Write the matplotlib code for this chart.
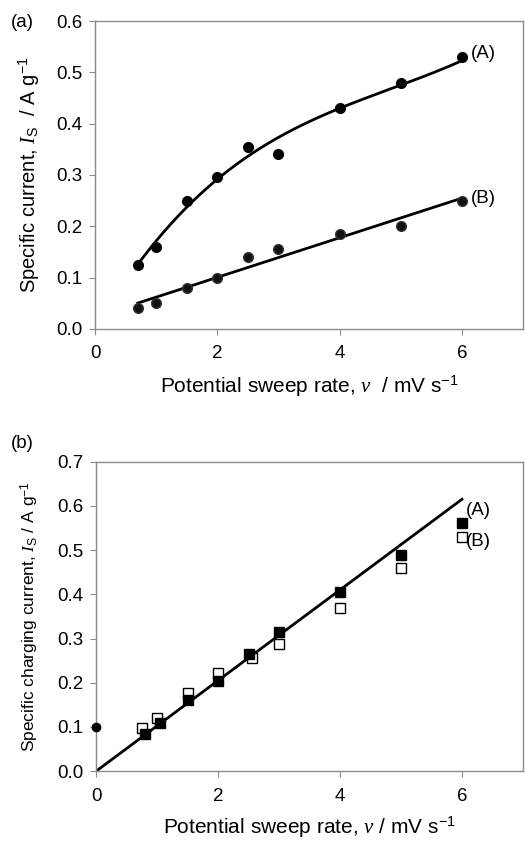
import numpy as np
import matplotlib
matplotlib.use("Agg")
import matplotlib.pyplot as plt

plt.rcParams['font.family'] = ['Liberation Sans', 'DejaVu Sans']
plt.rcParams['mathtext.fontset'] = 'custom'
plt.rcParams['mathtext.rm'] = 'Liberation Sans'
plt.rcParams['mathtext.it'] = 'Liberation Serif:italic'
plt.rcParams['mathtext.bf'] = 'Liberation Sans:bold'

# (a) specific current vs sweep rate
a_x = [0.7, 1, 1.5, 2, 2.5, 3, 4, 5, 6]
a_A = [0.125, 0.16, 0.25, 0.295, 0.355, 0.34, 0.43, 0.48, 0.53]
a_B = [0.04, 0.05, 0.08, 0.10, 0.14, 0.155, 0.185, 0.20, 0.25]
# fitted curve for (A)
fitA_x = [0.7, 1, 1.5, 2, 3, 4, 5, 6]
fitA_y = [0.128, 0.165, 0.243, 0.29, 0.373, 0.428, 0.477, 0.522]

# (b) specific charging current vs sweep rate
b_xA = [0.8, 1.05, 1.5, 2, 2.5, 3, 4, 5, 6]
b_A = [0.085, 0.11, 0.16, 0.205, 0.265, 0.315, 0.405, 0.49, 0.562]
b_xB = [0.75, 1, 1.5, 2, 2.55, 3, 4, 5, 6]
b_B = [0.097, 0.12, 0.177, 0.222, 0.255, 0.288, 0.37, 0.46, 0.53]
b_fit_x = [0, 6]
b_fit_y = [0, 0.615]
b_extra = (0, 0.1)

spine_col = '#8c8c8c'

fig = plt.figure(figsize=(5.25, 8.41), dpi=100)
ax1 = fig.add_axes([0.181, 0.609, 0.815, 0.366])
ax2 = fig.add_axes([0.183, 0.083, 0.813, 0.368])

def style(ax, ymax):
    ax.set_xlim(0, 7)
    ax.set_ylim(0, ymax)
    ax.set_xticks([0, 2, 4, 6])
    ax.set_yticks(np.arange(0, ymax + 0.001, 0.1))
    ax.set_yticklabels(['%.1f' % v for v in np.arange(0, ymax + 0.001, 0.1)])
    for s in ax.spines.values():
        s.set_color(spine_col)
        s.set_linewidth(1.0)
    ax.tick_params(direction='out', length=4, color=spine_col, labelsize=13.5)
    ax.tick_params(axis='x', pad=8)
    ax.tick_params(axis='y', pad=5)

# panel a
xx = np.linspace(min(fitA_x), max(fitA_x), 200)
pA = np.polyfit(fitA_x, fitA_y, 3)
pB = np.polyfit(a_x, a_B, 1)
ax1.plot(xx, np.polyval(pA, xx), color='black', lw=2)
ax1.plot(xx, np.polyval(pB, xx), color='black', lw=2)
ax1.plot(a_x, a_A, 'o', color='black', ms=7, clip_on=False)
ax1.plot(a_x, a_B, 'o', color='#111111', mec='#333333', ms=7, clip_on=False)
ax1.text(6.15, 0.537, '(A)', fontsize=13.5, va='center')
ax1.text(6.15, 0.254, '(B)', fontsize=13.5, va='center')
style(ax1, 0.6)
ax1.set_xlabel(r'Potential sweep rate, $\mathit{\nu}$  / mV s$^{-1}$', fontsize=15, labelpad=8)
ax1.set_ylabel(r'Specific current, $\mathit{I}_{\mathrm{S}}$  / A g$^{-1}$', fontsize=14.5, labelpad=10)
fig.text(0.02, 0.973, '(a)', fontsize=13.5, va='center')

# panel b
ax2.plot(b_fit_x, b_fit_y, color='black', lw=2)
ax2.plot(b_xB, b_B, 's', mfc='white', mec='black', mew=1.0, ms=7, clip_on=False)
ax2.plot(b_xA, b_A, 's', color='black', ms=7, clip_on=False)
ax2.plot([b_extra[0]], [b_extra[1]], 'o', color='black', ms=6, clip_on=False, zorder=5)
ax2.text(6.07, 0.59, '(A)', fontsize=13.5, va='center')
ax2.text(6.07, 0.52, '(B)', fontsize=13.5, va='center')
style(ax2, 0.7)
ax2.set_xlabel(r'Potential sweep rate, $\mathit{\nu}$ / mV s$^{-1}$', fontsize=15, labelpad=7)
ax2.set_ylabel(r'Specific charging current, $\mathit{I}_{\mathrm{S}}$ / A g$^{-1}$', fontsize=12.5, labelpad=12)
fig.text(0.02, 0.473, '(b)', fontsize=13.5, va='center')

fig.savefig('out.png', dpi=100)
